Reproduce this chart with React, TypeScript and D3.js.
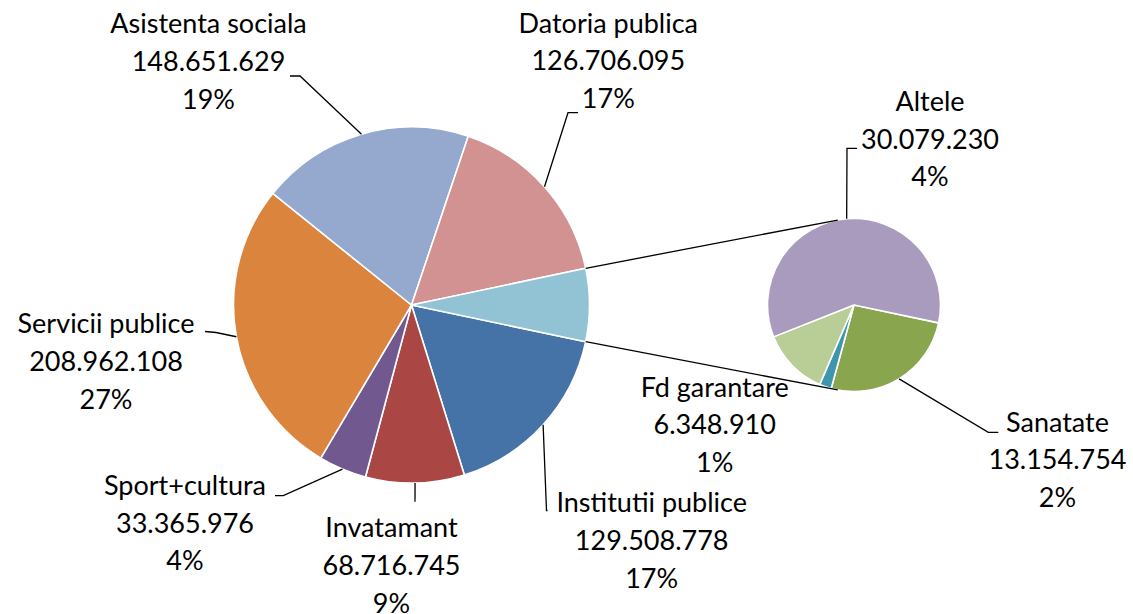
import React from "react";
import * as d3 from "d3";

// ---- data ----
const mainCategories = ["Institutii publice", "Invatamant", "Sport+cultura", "Servicii publice", "Asistenta sociala", "Datoria publica"];
const mainValues = [129508778, 68716745, 33365976, 208962108, 148651629, 126706095];
const mainColors = ["#4573A7", "#AA4744", "#71588F", "#DB843D", "#95A9CF", "#D19291"];
const otherColor = "#92C3D5";

const secCategories = ["Sanatate", "(fara eticheta)", "Fd garantare", "Altele"];
const secValues = [13154754, 1130000, 6348910, 30079230];
const secColors = ["#89A54E", "#3D96AE", "#B9CD96", "#A99BBD"];
const secLabeled = [true, false, true, true];

// ---- layout ----
const W = 1133, H = 614;
const mainC = { x: 411.5, y: 305, r: 178 };
const secC = { x: 854, y: 305, r: 86.5 };
const FONT = "Lato, 'Open Sans', sans-serif";
const FS = 27;
const LH = 37.6;

type Lay = { x: number; y: number; elbow: [number, number][] | null };
const labelLayout: Record<string, Lay> = {
  "Asistenta sociala": { x: 208.5, y: 33.3, elbow: [[290, 76], [300, 76]] },
  "Datoria publica": { x: 608.3, y: 32.5, elbow: [[578, 112.7], [568, 112.7]] },
  "Servicii publice": { x: 106, y: 333.3, elbow: [[205, 331.5], [216, 332.5]] },
  "Sport+cultura": { x: 185, y: 495, elbow: [[275, 495.7], [283.3, 495.7]] },
  "Invatamant": { x: 391.5, y: 537.3, elbow: [[415, 501.7]] },
  "Institutii publice": { x: 651.7, y: 512.3, elbow: [[547.5, 510.5], [546.5, 510.5]] },
  "Altele": { x: 930, y: 111, elbow: [[857, 148.3], [847, 148.3]] },
  "Sanatate": { x: 1057.5, y: 431.7, elbow: [[998.3, 432.3], [988.3, 432.3]] },
  "Fd garantare": { x: 714.7, y: 396.7, elbow: null },
};

const locale = d3.formatLocale({ decimal: ",", thousands: ".", grouping: [3], currency: ["", ""] });
const fmtNum = locale.format(",d");
const fmtPct = d3.format(".0%");

function pt(cx: number, cy: number, r: number, a: number): [number, number] {
  return [cx + r * Math.sin(a), cy - r * Math.cos(a)];
}

export default function App() {
  const otherSum = d3.sum(secValues);
  const total = d3.sum(mainValues) + otherSum;
  const otherAngle = (otherSum / total) * 2 * Math.PI;
  const start = Math.PI / 2 + otherAngle / 2;

  const mainData = [...mainValues.map((v, i) => ({ name: mainCategories[i], value: v, color: mainColors[i], labeled: true })),
    { name: "__other", value: otherSum, color: otherColor, labeled: false }];
  const mainPie = d3.pie<any>().sort(null).value((d) => d.value).startAngle(start).endAngle(start + 2 * Math.PI)(mainData);
  const secData = secValues.map((v, i) => ({ name: secCategories[i], value: v, color: secColors[i], labeled: secLabeled[i] }));
  const secPie = d3.pie<any>().sort(null).value((d) => d.value).startAngle(start).endAngle(start + 2 * Math.PI)(secData);

  const arcMain = d3.arc<any>().innerRadius(0).outerRadius(mainC.r);
  const arcSec = d3.arc<any>().innerRadius(0).outerRadius(secC.r);

  // connector lines (other slice edges to tangents of secondary pie)
  const otherArc = mainPie[mainPie.length - 1];
  const pTop = pt(mainC.x, mainC.y, mainC.r, otherArc.startAngle);
  const pBot = pt(mainC.x, mainC.y, mainC.r, otherArc.endAngle);
  function tangent(p: [number, number], pickTop: boolean): [number, number] {
    const dx = p[0] - secC.x, dy = p[1] - secC.y;
    const d = Math.hypot(dx, dy);
    const phi = Math.atan2(dx, -dy);
    const off = Math.acos(secC.r / d);
    const a = pt(secC.x, secC.y, secC.r, phi + off);
    const b = pt(secC.x, secC.y, secC.r, phi - off);
    if (pickTop) return a[1] < b[1] ? a : b;
    return a[1] > b[1] ? a : b;
  }
  const tTop = tangent(pTop, true);
  const tBot = tangent(pBot, false);

  const labels: any[] = [];
  const addLabels = (arcs: any[], c: { x: number; y: number; r: number }) => {
    arcs.forEach((a) => {
      if (!a.data.labeled) return;
      const lay = labelLayout[a.data.name];
      if (!lay) return;
      const mid = (a.startAngle + a.endAngle) / 2;
      const anchor = pt(c.x, c.y, c.r, mid);
      const line = lay.elbow ? [...lay.elbow, anchor] : null;
      labels.push({ name: a.data.name, value: a.data.value, lay, line });
    });
  };
  addLabels(mainPie, mainC);
  addLabels(secPie, secC);

  const lineGen = d3.line();

  return (
    <div style={{ position: "absolute", left: 0, top: 0 }}>
      <svg width={W} height={H} viewBox={`0 0 ${W} ${H}`} style={{ display: "block", background: "#fff" }}>
        <g transform={`translate(${mainC.x},${mainC.y})`}>
          {mainPie.map((a, i) => (
            <path key={i} d={arcMain(a) || ""} fill={a.data.color} stroke="#fff" strokeWidth={1.6} strokeLinejoin="round" />
          ))}
        </g>
        <g transform={`translate(${secC.x},${secC.y})`}>
          {secPie.map((a, i) => (
            <path key={i} d={arcSec(a) || ""} fill={a.data.color} stroke="#fff" strokeWidth={1.6} strokeLinejoin="round" />
          ))}
        </g>
        <line x1={pTop[0]} y1={pTop[1]} x2={tTop[0]} y2={tTop[1]} stroke="#000" strokeWidth={1.3} />
        <line x1={pBot[0]} y1={pBot[1]} x2={tBot[0]} y2={tBot[1]} stroke="#000" strokeWidth={1.3} />
        {labels.map((l, i) => (
          <g key={i}>
            {l.line && <path d={lineGen(l.line) || ""} fill="none" stroke="#000" strokeWidth={1.3} />}
            <text x={l.lay.x} y={l.lay.y} textAnchor="middle" fontFamily={FONT} fontSize={FS} fill="#000">
              <tspan x={l.lay.x} y={l.lay.y}>{l.name}</tspan>
              <tspan x={l.lay.x} y={l.lay.y + LH}>{fmtNum(l.value)}</tspan>
              <tspan x={l.lay.x} y={l.lay.y + 2 * LH}>{fmtPct(l.value / total)}</tspan>
            </text>
          </g>
        ))}
      </svg>
    </div>
  );
}
